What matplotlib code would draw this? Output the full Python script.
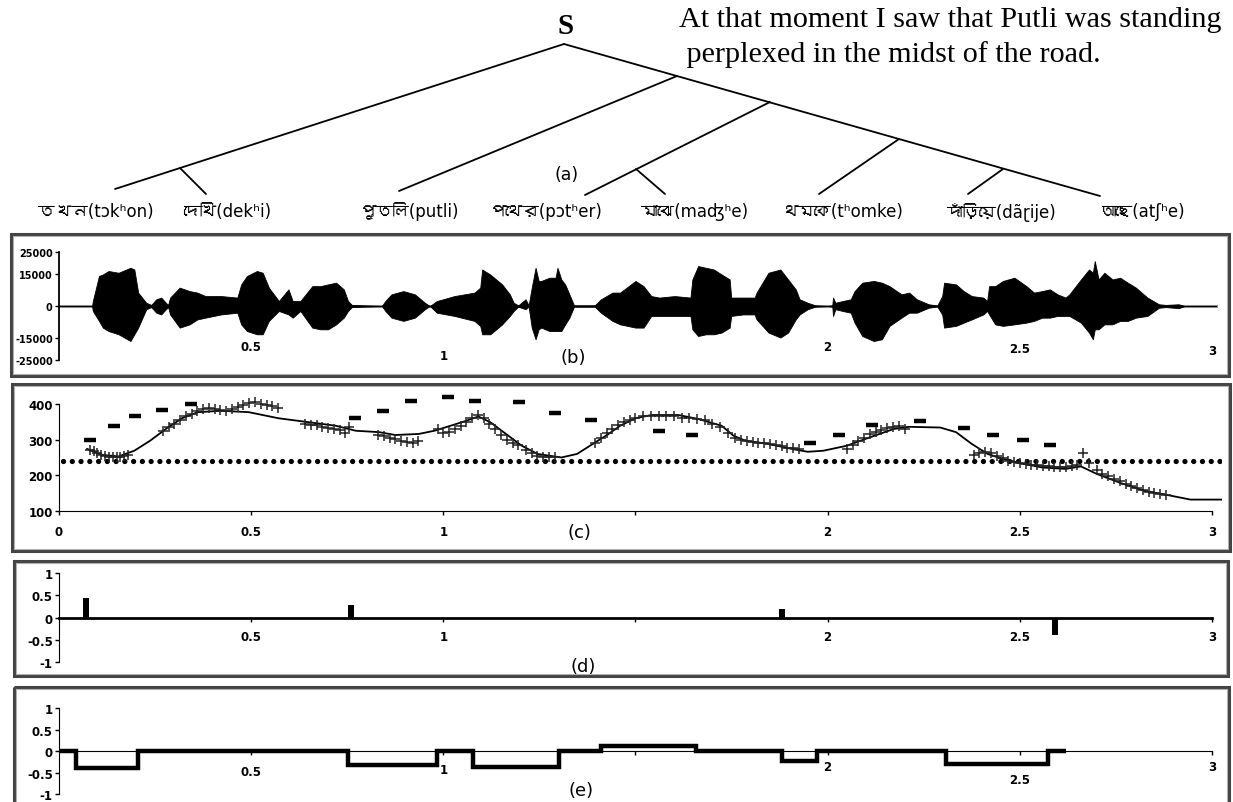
import matplotlib
matplotlib.use("Agg")
import matplotlib.pyplot as plt
from matplotlib import font_manager as fm
from matplotlib.ft2font import FT2Font
from matplotlib.patches import Rectangle

W, H = 1233, 803

# ------------------------------------------------------------------ data
sentence_lines = ["At that moment I saw that Putli was standing",
                  " perplexed in the midst of the road."]
words = ["তখন(tɔkʰon)", "দেখি(dekʰi)", "পুতলি(putli)", "পথের(pɔtʰer)",
         "মাঝে(maʤʰe)", "থমকে(tʰomke)", "দাঁড়িয়ে(dãɽije)", "আছে(atʃʰe)"]
word_x = [38, 183, 360, 490, 641, 782, 946, 1100]

# tree diagram nodes (layout in pixels) and edges
node_names = ["root", "L", "Ls", "dekhi", "R", "J1", "putli", "J2", "pother",
              "J2s", "majhe", "J3", "thomke", "J4", "darie"]
node_x = [564, 115, 180, 206, 1100, 677, 399, 770, 585, 636, 665, 899, 819, 1003, 968]
node_y = [45, 190, 169, 195, 197, 77, 192, 103, 196, 170, 195, 140, 195, 170, 195]
tree_edges = [("root", "L"), ("Ls", "dekhi"), ("root", "R"), ("J1", "putli"),
              ("J2", "pother"), ("J2s", "majhe"), ("J3", "thomke"), ("J4", "darie")]

# (b) waveform envelope: time (s), upper and lower amplitude (thousands)
wave_t = [0.000, 0.086, 0.088, 0.104, 0.114, 0.129, 0.155, 0.186, 0.196, 0.206, 0.227, 0.240,
          0.253, 0.266, 0.278, 0.284, 0.289, 0.314, 0.340, 0.360, 0.381, 0.422, 0.464, 0.474,
          0.489, 0.515, 0.530, 0.546, 0.572, 0.597, 0.608, 0.628, 0.659, 0.680, 0.700, 0.721,
          0.741, 0.752, 0.762, 0.840, 0.849, 0.865, 0.896, 0.926, 0.952, 0.965, 0.983, 1.029,
          1.081, 1.096, 1.101, 1.122, 1.153, 1.173, 1.183, 1.195, 1.214, 1.222, 1.230, 1.240,
          1.248, 1.255, 1.276, 1.292, 1.297, 1.307, 1.317, 1.328, 1.340, 1.394, 1.410, 1.440,
          1.460, 1.500, 1.521, 1.541, 1.562, 1.602, 1.643, 1.648, 1.663, 1.683, 1.704, 1.724,
          1.745, 1.749, 1.780, 1.810, 1.815, 1.846, 1.877, 1.897, 1.917, 1.927, 1.948, 1.968,
          2.000, 2.012, 2.014, 2.020, 2.039, 2.060, 2.070, 2.090, 2.120, 2.141, 2.161, 2.192,
          2.212, 2.232, 2.263, 2.285, 2.298, 2.303, 2.334, 2.354, 2.375, 2.405, 2.415, 2.420,
          2.436, 2.456, 2.486, 2.517, 2.537, 2.558, 2.578, 2.598, 2.619, 2.629, 2.659, 2.680,
          2.690, 2.695, 2.705, 2.720, 2.741, 2.761, 2.781, 2.802, 2.832, 2.862, 2.880, 2.913,
          2.930, 3.010]
wave_up = [0, 0, 2.3, 13.9, 14.6, 16.2, 15.4, 17.7, 16.9, 6.2, 1.5, 0.5,
           3.1, 3.9, 1.5, 0.5, 3.9, 8.5, 6.9, 6.2, 4.6, 4.6, 3.9, 10.0,
           13.9, 16.2, 15.4, 8.5, 2.3, 7.7, 2.3, 2.3, 9.2, 9.2, 10.0, 10.8,
           7.7, 2.3, 0.5, 0, 2.3, 5.4, 6.9, 5.4, 1.5, 0, 2.3, 4.6,
           6.2, 8.5, 16.9, 14.6, 10.0, 5.4, 1.5, 0.3, 3.1, 0.3, 8.5, 17.7,
           11.6, 11.6, 13.1, 13.1, 17.7, 12.3, 10.0, 5.4, 0.3, 0.3, 3.1, 6.2,
           6.2, 11.6, 9.2, 4.6, 3.9, 4.6, 3.9, 12.3, 18.5, 17.7, 16.9, 14.6,
           12.3, 3.9, 3.9, 3.9, 6.2, 15.4, 16.9, 12.3, 7.7, 3.1, 1.5, 0.3,
           0, 0.3, 3.9, 1.5, 2.3, 3.1, 6.9, 10.8, 11.6, 10.8, 9.2, 5.4,
           6.2, 3.1, 0.8, 0.2, 4.6, 10.8, 10.0, 6.9, 4.6, 3.9, 2.3, 9.2,
           9.2, 11.6, 13.1, 9.2, 6.2, 6.9, 7.7, 5.4, 3.9, 5.4, 12.3, 16.9,
           15.4, 20.8, 12.3, 15.4, 12.3, 13.1, 10.8, 8.5, 3.9, 0.8, 0.5, 0.8,
           0, 0]
wave_lo = [0, 0, -2.3, -6.9, -10.0, -11.6, -13.1, -16.2, -13.1, -10.0, -1.5, -0.5,
           -3.1, -3.9, -1.5, -0.5, -3.9, -10.0, -8.5, -6.2, -5.4, -3.9, -3.1, -8.5,
           -11.6, -13.1, -13.1, -6.9, -2.3, -3.9, -5.4, -2.3, -10.0, -10.8, -10.8, -8.5,
           -5.4, -2.3, -0.5, 0, -2.3, -5.4, -6.9, -5.4, -1.5, 0, -3.1, -4.6,
           -6.9, -9.2, -13.1, -13.1, -8.5, -4.6, -2.3, -0.3, -1.5, -0.3, -10.0, -15.4,
           -10.8, -10.0, -11.6, -11.6, -11.6, -11.6, -8.5, -5.4, -0.3, -0.3, -3.1, -6.9,
           -8.5, -10.0, -10.0, -4.6, -4.6, -4.6, -4.6, -10.8, -13.9, -13.1, -13.1, -12.3,
           -10.0, -4.6, -3.9, -3.9, -6.2, -12.3, -14.6, -12.3, -6.2, -3.9, -1.5, -0.3,
           0, -0.3, -4.6, -1.5, -2.3, -3.1, -7.7, -13.9, -16.2, -15.4, -9.2, -5.4,
           -3.1, -3.1, -0.8, -0.2, -3.9, -10.0, -9.2, -7.7, -6.2, -3.9, -2.3, -3.9,
           -8.5, -9.2, -8.5, -7.7, -6.9, -5.4, -5.4, -4.6, -4.6, -4.6, -7.7, -12.3,
           -15.4, -10.8, -10.8, -8.5, -8.5, -6.9, -6.9, -5.4, -4.6, -0.8, -0.5, -1.0,
           0, 0]
b_yticks = [-25000, -15000, 0, 15000, 25000]
b_ylabels = ["-25000", "-15000", "0", "15000", "25000"]

# (c) pitch panel
curve_t = [0.073, 0.114, 0.155, 0.196, 0.237, 0.278, 0.320, 0.361, 0.422, 0.494, 0.571, 0.649,
           0.720, 0.772, 0.833, 0.875, 0.936, 0.977, 1.019, 1.060, 1.091, 1.122, 1.163, 1.204,
           1.245, 1.307, 1.348, 1.389, 1.430, 1.460, 1.500, 1.541, 1.612, 1.663, 1.724, 1.755,
           1.786, 1.846, 1.907, 1.948, 1.989, 2.050, 2.111, 2.172, 2.212, 2.293, 2.334, 2.375,
           2.416, 2.456, 2.497, 2.558, 2.619, 2.659, 2.700, 2.761, 2.822, 2.883, 2.944, 3.025]
curve_v = [274, 257, 253, 269, 297, 330, 360, 377, 381, 377, 360, 349,
           339, 325, 321, 313, 316, 325, 339, 353, 365, 349, 316, 283,
           260, 250, 260, 288, 316, 339, 360, 369, 369, 358, 339, 311,
           297, 288, 274, 266, 269, 283, 307, 330, 336, 334, 321, 288,
           260, 246, 235, 222, 218, 225, 204, 179, 157, 145, 132, 132]
plus_t = [0.080, 0.090, 0.100, 0.110, 0.120, 0.130, 0.140, 0.150, 0.160, 0.170, 0.180,
          0.270, 0.285, 0.300, 0.315, 0.330, 0.345, 0.360, 0.375, 0.390, 0.405, 0.420, 0.435,
          0.450, 0.465, 0.480, 0.495, 0.510, 0.525, 0.540, 0.555, 0.570,
          0.640, 0.655, 0.670, 0.685, 0.700, 0.715, 0.730, 0.745, 0.755,
          0.830, 0.845, 0.860, 0.875, 0.890, 0.905, 0.920, 0.935,
          0.985, 1.000, 1.015, 1.030, 1.045, 1.060, 1.075, 1.090, 1.105, 1.120, 1.135, 1.150,
          1.165, 1.180, 1.195,
          1.215, 1.230, 1.245, 1.260, 1.275, 1.290,
          1.395, 1.410, 1.425, 1.440, 1.455, 1.470, 1.485, 1.500, 1.520, 1.540, 1.560, 1.580,
          1.600, 1.620, 1.640, 1.660, 1.680, 1.700, 1.720, 1.740,
          1.760, 1.775, 1.790, 1.805, 1.820, 1.835, 1.850, 1.865, 1.880, 1.895, 1.910, 1.925,
          2.050, 2.065, 2.080, 2.095, 2.110, 2.125, 2.140, 2.155, 2.170, 2.185, 2.200,
          2.380, 2.395, 2.410, 2.425, 2.440, 2.455,
          2.470, 2.485, 2.500, 2.515, 2.530, 2.545, 2.560, 2.575, 2.590, 2.605, 2.620, 2.635,
          2.650, 2.665, 2.680,
          2.700, 2.715, 2.730, 2.745, 2.760, 2.775, 2.790, 2.805, 2.820, 2.835, 2.850, 2.865,
          2.880]
plus_v = [272, 268, 262, 258, 255, 252, 250, 252, 250, 255, 258,
          325, 335, 345, 355, 365, 372, 380, 385, 388, 386, 384, 380,
          385, 392, 398, 402, 405, 400, 398, 395, 390,
          345, 342, 340, 335, 332, 330, 328, 318, 335,
          312, 310, 305, 302, 296, 293, 292, 295,
          330, 318, 322, 330, 338, 350, 360, 368, 362, 345, 330, 312,
          300, 292, 285,
          270, 262, 255, 252, 250, 252,
          290, 305, 320, 330, 340, 350, 355, 360, 365, 366, 366, 365,
          365, 362, 360, 358, 355, 345, 335, 320,
          305, 300, 296, 293, 292, 290, 288, 285, 282, 278, 276, 274,
          275, 285, 295, 305, 315, 322, 328, 332, 335, 338, 330,
          258, 262, 265, 262, 255, 248,
          240, 238, 235, 232, 230, 228, 226, 225, 222, 222, 224, 226,
          228, 262, 235,
          215, 205, 198, 190, 183, 176, 170, 164, 158, 153, 150, 147,
          145]
dash_t = [0.081, 0.143, 0.199, 0.268, 0.343, 0.770, 0.842, 0.916, 1.011, 1.083, 1.197, 1.291,
          1.384, 1.561, 1.648, 1.953, 2.029, 2.115, 2.240, 2.354, 2.430, 2.507, 2.578]
dash_v = [299, 339, 365, 384, 399, 362, 379, 409, 419, 409, 405, 375,
          356, 323, 313, 291, 313, 342, 351, 333, 313, 300, 286]
ref_level = 240
ref_span = (0.01, 3.02)

# (d) bars
bar_t = [0.071, 0.759, 1.881, 2.591]
bar_v = [0.43, 0.28, 0.20, -0.40]

# (e) staircase
step_edges = [0.0, 0.045, 0.206, 0.752, 0.983, 1.076, 1.302, 1.410, 1.658, 1.882, 1.973,
              2.309, 2.573, 2.619]
step_vals = [0, -0.40, 0, -0.33, 0, -0.38, 0, 0.12, 0, -0.24, 0, -0.30, 0]

x_ticks_main = [0.5, 1, 2, 2.5, 3]
unit_ticks = [-1, -0.5, 0, 0.5, 1]
unit_labels = ["-1", "-0.5", "0", "0.5", "1"]

# ------------------------------------------------------------------ fonts
beng_font = None
for f in fm.fontManager.ttflist:
    try:
        cmap = FT2Font(f.fname).get_charmap()
    except Exception:
        continue
    if 0x09A4 in cmap and 0x09AA in cmap:
        beng_font = f.name
        break
word_family = ["DejaVu Sans", beng_font] if beng_font else ["DejaVu Sans"]

TICKFONT = dict(family="DejaVu Sans", weight="bold")

# ------------------------------------------------------------------ figure
fig = plt.figure(figsize=(W / 100, H / 100), dpi=100)


def rect(x0, y0, x1, y1):
    return [x0 / W, 1 - y1 / H, (x1 - x0) / W, (y1 - y0) / H]


ax0 = fig.add_axes([0, 0, 1, 1], zorder=0)
ax0.set_xlim(0, W)
ax0.set_ylim(H, 0)
ax0.axis("off")

# tree
pos = {n: (x, y) for n, x, y in zip(node_names, node_x, node_y)}
for a, b in tree_edges:
    ax0.plot([pos[a][0], pos[b][0]], [pos[a][1], pos[b][1]], color="black", lw=1.3,
             solid_capstyle="round")
ax0.text(566, 26, "S", family="Liberation Serif", weight="bold", fontsize=21,
         ha="center", va="center")
t1 = ax0.text(679, 20, sentence_lines[0], family="Liberation Serif", fontsize=19,
              ha="left", va="center")
t2 = ax0.text(679, 55, sentence_lines[1], family="Liberation Serif", fontsize=19,
              ha="left", va="center")
fig.canvas.draw()
r = fig.canvas.get_renderer()
wpx = t1.get_window_extent(r).width
fs = 19 * 542.0 / wpx
t1.set_fontsize(fs)
t2.set_fontsize(fs)
ax0.text(567, 175, "(a)", fontsize=12.5, ha="center", va="center")
for w, x in zip(words, word_x):
    ax0.text(x, 212, w, family=word_family, fontsize=12, ha="left", va="center")

# panel frames and labels
frames = [(11, 235, 1229, 377), (12, 385, 1230, 552), (14, 562, 1228, 677), (14, 688, 1229, 806)]
for x0, y0, x1, y1 in frames:
    ax0.add_patch(Rectangle((x0, y0), x1 - x0, y1 - y0, fill=False, ec="#444444", lw=2.2))
    ax0.add_patch(Rectangle((x0 + 2, y0 + 2), x1 - x0 - 4, y1 - y0 - 4, fill=False,
                            ec="#b0b0b0", lw=0.8))
for lab, x, y in [("(b)", 573, 358), ("(c)", 579, 533), ("(d)", 583, 667), ("(e)", 581, 791)]:
    ax0.text(x, y, lab, fontsize=13, ha="center", va="center")

XL = (0, (1222 - 59) / 384.33)


def setup(ax, ysize=8.5):
    ax.set_facecolor("none")
    ax.set_xlim(*XL)
    for s in ["top", "right"]:
        ax.spines[s].set_visible(False)
    ax.tick_params(labelsize=8.5, length=3, width=1, direction="out")
    ax.tick_params(axis="y", labelsize=ysize, pad=1.5)


def style_labels(ax):
    for lab in ax.get_xticklabels() + ax.get_yticklabels():
        lab.set_fontweight("bold")


# ---- (b)
axb = fig.add_axes(rect(59, 245, 1222, 369), zorder=2)
setup(axb, ysize=7)
axb.set_ylim(-28704, 28704)
axb.plot([0, wave_t[-1]], [0, 0], color="#8c8c8c", lw=2.2, zorder=1)
axb.fill_between(wave_t, [v * 1000 for v in wave_up], [v * 1000 for v in wave_lo],
                 color="black", lw=0.6, edgecolor="black", zorder=2)
axb.spines["bottom"].set_visible(False)
axb.spines["left"].set_bounds(-25000, 25000)
axb.spines["left"].set_linewidth(1.3)
axb.set_yticks(b_yticks)
axb.set_yticklabels(b_ylabels)
axb.set_xticks(x_ticks_main)
axb.set_xticklabels(["0.5", "1", "2", "2.5", "3"])
axb.tick_params(axis="x", length=0)
for tk, p in zip(axb.xaxis.get_major_ticks(), [-20, -13.7, -20, -18.7, -17.3]):
    tk.set_pad(p)
style_labels(axb)

# ---- (c)
axc = fig.add_axes(rect(59, 388, 1222, 512), zorder=2)
setup(axc)
axc.set_ylim(100, 447.6)
axc.plot(list(ref_span), [ref_level, ref_level], color="black", lw=3.8,
         linestyle=(0, (0.01, 1.65)), dash_capstyle="round")
axc.plot(curve_t, curve_v, color="black", lw=1.3)
axc.plot(plus_t, plus_v, linestyle="none", marker="+", ms=7, mew=1.1, color="#222222")
axc.plot(dash_t, dash_v, linestyle="none", marker="_", ms=8, mew=3.2, color="black")
axc.spines["left"].set_bounds(100, 400)
axc.spines["bottom"].set_bounds(0, 3)
axc.set_yticks([100, 200, 300, 400])
axc.set_xticks([0, 0.5, 1, 1.5, 2, 2.5, 3])
axc.set_xticklabels(["0", "0.5", "1", "", "2", "2.5", "3"])
axc.tick_params(axis="x", pad=7)
style_labels(axc)

# ---- (d)
axd = fig.add_axes(rect(59, 568, 1222, 670), zorder=2)
setup(axd)
axd.set_ylim(-1.157, 1.135)
axd.bar(bar_t, bar_v, width=0.016, color="black")
axd.spines["bottom"].set_position(("data", 0))
axd.spines["bottom"].set_bounds(0, 3)
axd.spines["bottom"].set_linewidth(2)
axd.spines["left"].set_bounds(-1, 1)
axd.set_yticks(unit_ticks)
axd.set_yticklabels(unit_labels)
axd.set_xticks([0.5, 1, 1.5, 2, 2.5, 3])
axd.set_xticklabels(["0.5", "1", "", "2", "2.5", "3"])
axd.tick_params(axis="x", pad=6)
style_labels(axd)

# ---- (e)
axe = fig.add_axes(rect(59, 703, 1222, 799), zorder=2)
setup(axe)
axe.set_ylim(-1.093, 1.14)
axe.stairs(step_vals, step_edges, color="black", lw=3.2, baseline=None)
axe.spines["bottom"].set_position(("data", 0))
axe.spines["bottom"].set_bounds(0, 3)
axe.spines["left"].set_bounds(-1, 1)
axe.set_yticks(unit_ticks)
axe.set_yticklabels(unit_labels)
axe.set_xticks([0.5, 1, 1.5, 2, 2.5, 3])
axe.set_xticklabels(["0.5", "1", "", "2", "2.5", "3"])
for tk, p in zip(axe.xaxis.get_major_ticks(), [7, 5.6, 5, 3.5, 12.8, 3.5]):
    tk.set_pad(p)
style_labels(axe)

fig.savefig("out.png", dpi=100)
